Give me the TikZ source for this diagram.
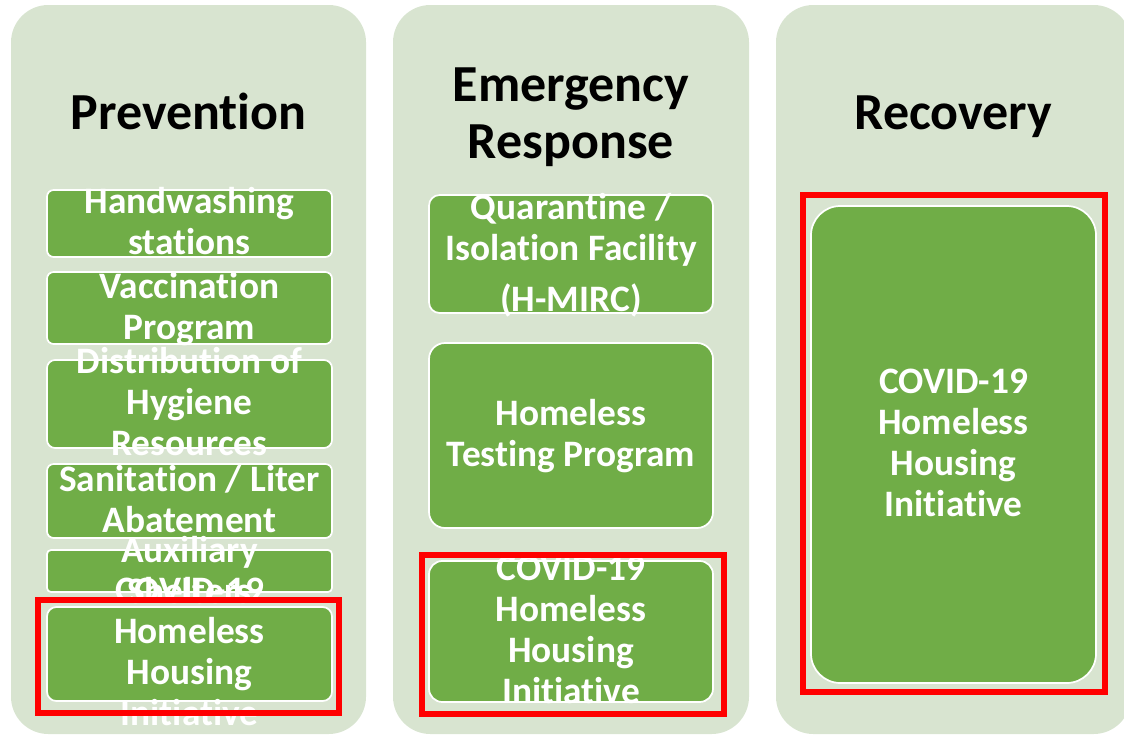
\documentclass[tikz,border=0pt]{standalone}
\usepackage{fontspec}
\setmainfont{Carlito}[Ligatures=NoCommon]
\definecolor{colbg}{HTML}{D8E4D0}
\definecolor{gfill}{HTML}{70AD47}
\definecolor{redc}{HTML}{FF0000}
\begin{document}
\begin{tikzpicture}[x=0.75pt,y=-0.75pt,
  column/.style={fill=colbg, rounded corners=28pt},
  gbox/.style={fill=gfill, draw=white, line width=1.3pt},
  btext/.style={text=white, font=\fontsize{28}{30.75}\bfseries\selectfont, align=center, inner sep=0pt, text height=17.7pt, text depth=0pt},
  head/.style={font=\fontsize{39}{42.75}\bfseries\selectfont, align=center, inner sep=0pt, text height=24.6pt, text depth=0pt},
  hl/.style={draw=redc, line width=4.5pt}]
\useasboundingbox (0,0) rectangle (1124,736);
\clip (0,0) rectangle (1124,736);
% columns
\fill[column] (11,5) rectangle (366,734);
\fill[column] (393,5) rectangle (749,734);
\fill[column] (776,5) rectangle (1131,734);
% headers
\node[head] (hprev) at (188.5,113.5) {Prevention};
\node[head] (hemer) at (571,142.5) {Emergency\\Response};
\node[head] (hrec) at (953.5,113.5) {Recovery};
% left column boxes
\draw[gbox, rounded corners=5pt] (47,190) rectangle (332,257);
\node[btext] (l1) at (189.5,242.5) {Handwashing\\stations};
\draw[gbox, rounded corners=5pt] (47,272) rectangle (332,344);
\node[btext] (l2) at (189.5,327.5) {Vaccination\\Program};
\draw[gbox, rounded corners=6pt] (47,360) rectangle (332,448);
\node[btext] (l3) at (189.5,444) {Distribution of\\Hygiene\\Resources};
\draw[gbox, rounded corners=5pt] (47,464) rectangle (332,538);
\node[btext] (l4) at (189.5,520.5) {Sanitation / Liter\\Abatement};
\draw[gbox, rounded corners=3pt] (47,550) rectangle (332,592);
\node[btext] (l5) at (189.5,591.5) {Auxiliary\\Shelters};
\draw[gbox, rounded corners=7pt] (47,607) rectangle (332,701);
\node[btext] (l6) at (189.5,714) {COVID-19\\Homeless\\Housing\\Initiative};
% middle column boxes
\draw[gbox, rounded corners=8pt] (429,195) rectangle (713,313);
\node[btext] (m1) at (571,300) {Quarantine /\\Isolation Facility\\[8pt](H-MIRC)};
\draw[gbox, rounded corners=12pt] (429,343) rectangle (713,528);
\node[btext] (m2) at (571,454.5) {Homeless\\Testing Program};
\draw[gbox, rounded corners=10pt] (429,561) rectangle (713,702);
\node[btext] (m3) at (571,691.5) {COVID-19\\Homeless\\Housing\\Initiative};
% right column box
\draw[gbox, rounded corners=22pt] (811,206) rectangle (1096,683);
\node[btext] (r1) at (953.5,504.5) {COVID-19\\Homeless\\Housing\\Initiative};
% highlights
\draw[hl] (38,600) rectangle (339,713);
\draw[hl] (422,555) rectangle (724,714);
\draw[hl] (803,195) rectangle (1105,692);
\end{tikzpicture}
\end{document}
